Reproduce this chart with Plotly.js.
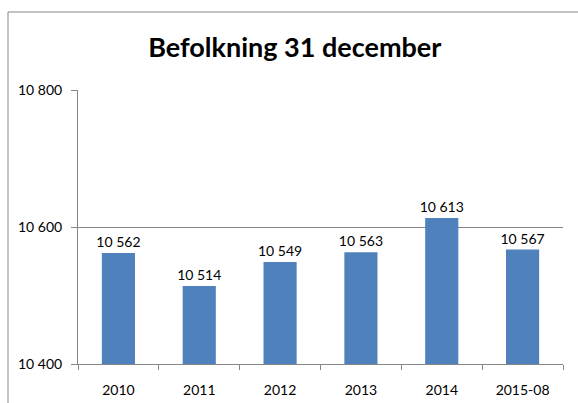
<!DOCTYPE html>
<html><head><meta charset="utf-8">
<script src="https://cdn.plot.ly/plotly-3.0.1.min.js"></script>
<style>html,body{margin:0;padding:0;background:#fff}#c{width:578px;height:403px}</style>
</head><body><div id="c"></div>
<script>
const categories = ["2010","2011","2012","2013","2014","2015-08"];
const population = [10562,10514,10549,10563,10613,10567];
const yTicks = [10400,10600,10800];

const F = 'Lato, "Open Sans", sans-serif';
const trace = {
  type: 'bar', x: categories, y: population,
  marker: {color: '#4F81BD'},
  width: 0.41,
  texttemplate: '%{y:,}',
  textposition: 'outside',
  constraintext: 'none',
  cliponaxis: false,
  textfont: {family: F, size: 14, color: '#000'},
  hoverinfo: 'none'
};
const layout = {
  width: 578, height: 403,
  margin: {l: 78, r: 15, t: 90, b: 39},
  paper_bgcolor: '#fff', plot_bgcolor: '#fff',
  separators: '. ',
  showlegend: false,
  title: {text: '<b>Befolkning 31 december</b>', x: 0.51, xanchor: 'center', y: 0.883, yanchor: 'middle',
    font: {family: F, size: 27, color: '#000'}},
  xaxis: {type: 'category', showline: true, linecolor: '#868686', linewidth: 1,
    ticks: 'outside', tickson: 'boundaries', ticklen: 5, tickcolor: '#868686',
    showgrid: false, zeroline: false, ticklabelstandoff: 13,
    tickfont: {family: F, size: 14, color: '#000'}},
  yaxis: {range: [10400, 10800], tickvals: yTicks, tickformat: ',', showline: true, linecolor: '#868686',
    ticks: 'outside', ticklen: 6, tickcolor: '#868686', showgrid: true, gridcolor: '#868686', gridwidth: 1,
    zeroline: false, ticklabelstandoff: 6,
    tickfont: {family: F, size: 14, color: '#000'}},
  shapes: [
    {type: 'rect', xref: 'paper', yref: 'paper', x0: -0.1443, x1: 1.2, y0: -0.3, y1: 1.2847,
     line: {color: '#868686', width: 1}, fillcolor: 'rgba(0,0,0,0)', layer: 'below'}
  ]
};
Plotly.newPlot('c', [trace], layout, {displayModeBar: false, staticPlot: true});
</script></body></html>
